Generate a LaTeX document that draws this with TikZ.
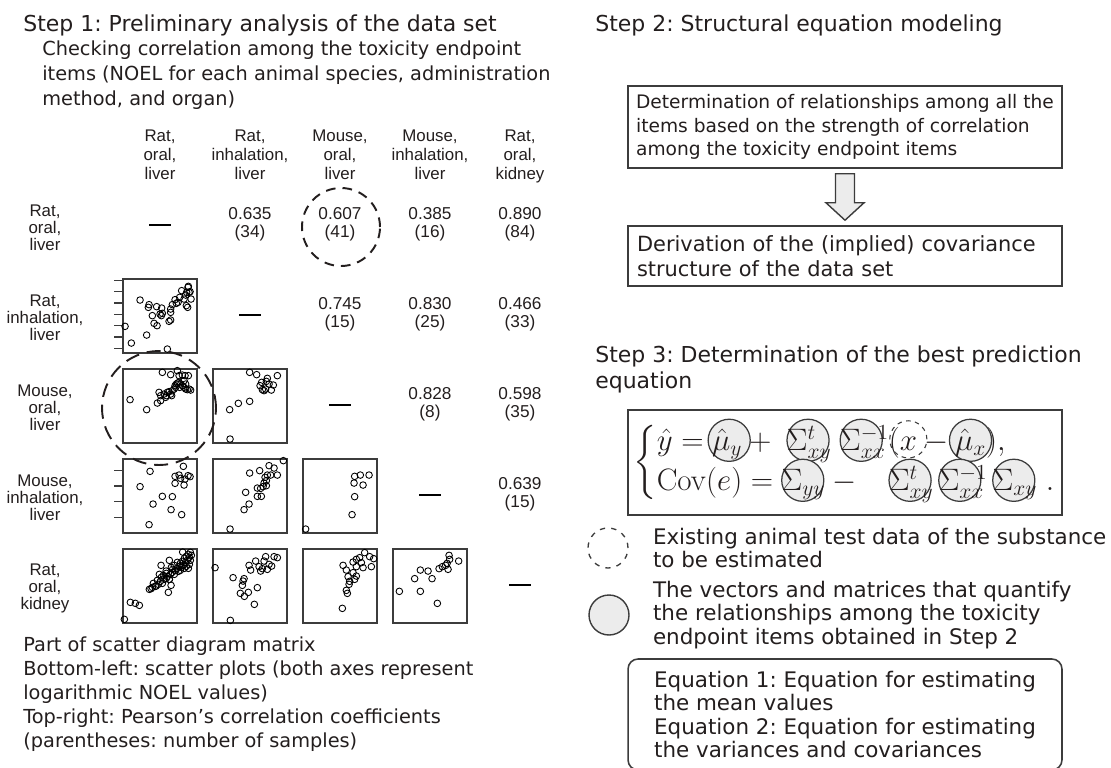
\documentclass[tikz,border=0pt]{standalone}
\usepackage{amsmath}
\usepackage{graphicx}
\usepackage[no-math]{fontspec}
\setmainfont{DejaVu Sans}
\newfontfamily\arialfont{Liberation Sans}
\usepackage{tikz}
\usetikzlibrary{positioning, calc}
\frenchspacing
\definecolor{cText}{RGB}{35,30,30}
\definecolor{cLine}{RGB}{60,60,60}
\definecolor{cFill}{RGB}{236,236,236}
\newcommand{\titlesize}{\fontsize{12.5pt}{14.8pt}\selectfont}
\newcommand{\bodysize}{\fontsize{12.2pt}{13.4pt}\selectfont}
\newcommand{\gridsize}{\arialfont\fontsize{9.6pt}{10.8pt}\selectfont}
\tikzset{
    steptitle/.style={anchor=base west, inner sep=0pt, font=\titlesize},
    bodytext/.style ={anchor=north west, inner sep=0pt, align=left, font=\bodysize},
    stepbox/.style  ={rectangle, draw=cLine, line width=0.9pt, minimum width=8.68cm, align=left},
    notebox/.style  ={rectangle, rounded corners=0.2cm, draw=cLine, line width=0.9pt, minimum width=8.68cm, align=left, font=\bodysize},
    eqbox/.style    ={rectangle, draw=cLine, line width=0.9pt, minimum width=8.68cm, minimum height=2.1cm, inner sep=0pt, font=\fontsize{17.28pt}{18.6pt}\selectfont},
    colhead/.style  ={anchor=north, inner sep=0pt, align=center, font=\gridsize},
    rowlabel/.style ={inner sep=0pt, align=center, font=\arialfont\fontsize{9.6pt}{9.7pt}\selectfont},
    corrval/.style  ={inner sep=0pt, align=center, font=\arialfont\fontsize{9.8pt}{10.2pt}\selectfont},
    scatbox/.style  ={rectangle, draw=cLine, line width=0.75pt, minimum size=1.48cm, inner sep=0pt},
    dotmark/.style  ={draw=black, line width=0.5pt},
    axistick/.style ={draw=cLine, line width=0.7pt},
    diagdash/.style ={draw=black, line width=0.8pt},
    ringdash/.style ={circle, draw=cText, line width=1.1pt, dash pattern=on 5.5pt off 4pt, inner sep=0pt},
    keyring/.style  ={circle, minimum size=0.8cm, inner sep=0pt, line width=0.8pt, draw=cLine},
    fatarrow/.style ={draw=cLine, line width=0.8pt, fill=cFill},
    eqring/.style   ={fill=cFill, draw=cLine, line width=0.7pt},
    eqdash/.style   ={draw=cLine, line width=0.6pt, dash pattern=on 2.5pt off 2.5pt},
}
\newcommand{\ringed}[1]{\tikz[overlay,baseline=0pt]\filldraw[eqring] (#1,0.33em) circle (0.68em);}
\newcommand{\dashringed}[1]{\tikz[overlay,baseline=0pt]\draw[eqdash] (#1,0.36em) circle (0.6em);}

\begin{document}
\begin{tikzpicture}[x=0.02cm, y=-0.02cm, text=cText]
    \useasboundingbox (0,0) rectangle (1111,767);
    % step 1
    \node[steptitle] (s1title) at (23,32) {Step 1: Preliminary analysis of the data set};
    \node[bodytext, font=\fontsize{11pt}{14.2pt}\selectfont] (s1text) at (42,40.3) {Checking correlation among the toxicity endpoint\\items (NOEL for each animal species, administration\\method, and organ)};
    % scatter diagram matrix
    \foreach \c/\lab in {1/{Rat,\\oral,\\liver}, 2/{Rat,\\inhalation,\\liver}, 3/{Mouse,\\oral,\\liver}, 4/{Mouse,\\inhalation,\\liver}, 5/{Rat,\\oral,\\kidney}}
        \node[colhead] (hd\c) at ({160+90*(\c-1)},129.5) {\lab};
    \foreach \r/\lab in {1/{Rat,\\oral,\\liver}, 2/{Rat,\\inhalation,\\liver}, 3/{Mouse,\\oral,\\liver}, 4/{Mouse,\\inhalation,\\liver}, 5/{Rat,\\oral,\\kidney}}
        \node[rowlabel] (rl\r) at (45,{228+90*(\r-1)}) {\lab};
    \foreach \k in {1,...,5}
        \draw[diagdash] ({149+90*(\k-1)},{225+90*(\k-1)}) -- ++(22,0);
    \foreach \c/\r/\v/\n in {2/1/0.635/34, 3/1/0.607/41, 4/1/0.385/16, 5/1/0.890/84, 3/2/0.745/15, 4/2/0.830/25, 5/2/0.466/33, 4/3/0.828/8, 5/3/0.598/35, 5/4/0.639/15}
        \node[corrval] (cv\r\c) at ({160+90*(\c-1)},{224+90*(\r-1)}) {\v\\(\n)};
    \foreach \c/\r in {1/2, 1/3, 2/3, 1/4, 2/4, 3/4, 1/5, 2/5, 3/5, 4/5}
        \node[scatbox] (sp\r\c) at ({160+90*(\c-1)},{226+90*(\r-1)}) {};
    \begin{scope}[shift={(sp21.north west)}]
        \foreach \ty in {2,13.3,24.7,36,47.3,58.7,70} \draw[axistick] (0,\ty) -- ++(-8,0);
        \foreach \px/\py in {2.7/48, 9/64.7, 17.7/21.7, 24.3/56.7, 26.7/26.3, 26/29, 30/37.3, 31.7/45, 34.7/47.3, 34.3/28.3, 39.3/29.7, 37.7/35.7, 40/35, 39/37.3, 46.7/43, 48.3/41.7, 48.3/34, 48.3/30.7, 50/26.3, 52.7/21.3, 54/25, 55.7/24, 57.3/19, 59.3/12.3, 61.7/20.7, 63.3/16.7, 64.3/14, 65.7/9, 66.7/14, 67.7/13.3, 66/8, 68.7/20.7, 64/27.3, 65.3/29, 45/70.7}
            \draw[dotmark] (\px,\py) circle (3.3);
    \end{scope}
    \begin{scope}[shift={(sp31.north west)}]
        \foreach \px/\py in {7.7/31.3, 24.3/41.3, 35/34.7, 40/4, 48.3/6.3, 55/2.3, 56.7/7.3, 60/6.7, 62.7/7.3, 66/7.3, 36.7/24, 38.3/27.3, 41.7/25.7, 43.3/29, 45/24, 46.7/23.3, 48.3/25.7, 50/22.3, 51.7/20.7, 52.7/17.3, 54/15.7, 55.3/14.7, 56.7/14, 58.3/15.7, 60/17.3, 61.7/19, 63.3/20.7, 65/21.3, 66.7/20.7, 68.3/21.7, 57.3/19, 53.3/19, 38.3/32.3, 44/27.3, 49.3/27.3, 61.7/12.3, 63.3/15.7}
            \draw[dotmark] (\px,\py) circle (3.3);
    \end{scope}
    \begin{scope}[shift={(sp32.north west)}]
        \foreach \px/\py in {37.3/4, 44.3/6.3, 65/7.3, 55/10, 54/13, 49.3/14, 47.7/17.3, 56.7/15.7, 61/16.7, 50/21.3, 53.3/20.7, 59/21.7, 51.7/22.3, 37.3/33, 26/35, 17.3/41.3, 17.7/70.7}
            \draw[dotmark] (\px,\py) circle (3.3);
    \end{scope}
    \begin{scope}[shift={(sp41.north west)}]
        \foreach \ty in {12,27.6,43.2,58.8} \draw[axistick] (0,\ty) -- ++(-8,0);
        \foreach \px/\py in {27.7/13, 17.7/28.3, 52.7/18, 56.7/16.7, 61/8, 65.7/17.3, 67.7/18.3, 58.3/20, 62.7/20.7, 52.7/25, 61.7/26.7, 40/38, 50/38.3, 30.7/45.7, 48.7/51.3, 59.3/56.3, 26.7/66.3}
            \draw[dotmark] (\px,\py) circle (3.3);
    \end{scope}
    \begin{scope}[shift={(sp42.north west)}]
        \foreach \px/\py in {71/2.3, 56.7/7.3, 61.7/9.7, 47.3/12.3, 37.3/14.7, 55/16.7, 58.3/16.7, 65/16.7, 52.7/19, 54/22.3, 51.7/24.7, 50.7/28.3, 54/27.3, 45/29.7, 48.3/30, 33.3/34, 45/38, 49/38, 36.7/45.7, 31.7/51.3, 17.7/70.7}
            \draw[dotmark] (\px,\py) circle (3.3);
    \end{scope}
    \begin{scope}[shift={(sp43.north west)}]
        \foreach \px/\py in {52.3/18, 58/16.7, 66.7/16.7, 51.7/24.7, 60.7/26.7, 52.3/38.3, 49.7/56.3, 3.3/70.7}
            \draw[dotmark] (\px,\py) circle (3.3);
    \end{scope}
    \begin{scope}[shift={(sp51.north west)}]
        \foreach \px/\py in {8/54, 13/55, 17/57, 2/71, 27/41, 30/39, 33/38, 36/36, 38/33, 40/35, 42/31, 44/30, 46/44, 45/28, 47/31, 48/26, 50/24, 52/26, 53/22, 55/20, 56/23, 57/18, 58/15, 59/19, 60/13, 61/17, 62/10, 63/14, 64/8, 65/12, 66/6, 67/9, 68/4, 69/7, 67/16, 50.3/21, 43.7/22.7, 37/26, 47/31, 48.7/37, 33.7/37.7, 28.7/40.3, 38.7/17, 47/12, 60.3/3.7, 55/14, 58/22, 62/20, 64/18, 52/17, 49/19, 41/27, 35/32, 31/35, 68/12, 66/20, 39/29, 44/25}
            \draw[dotmark] (\px,\py) circle (3.3);
    \end{scope}
    \begin{scope}[shift={(sp52.north west)}]
        \foreach \px/\py in {2.7/19.3, 20.7/29.3, 31.7/30.3, 30.7/32.7, 30/37, 36.7/17, 38.3/21.7, 43.3/12.7, 46.7/18.3, 48.3/22.7, 51.7/12.7, 53.3/8.3, 56.7/16, 59.3/17.7, 61.7/8.3, 65/9.3, 50/20.3, 55/21, 45/39.3, 28/45, 32/48, 36/44, 42/56, 18/72}
            \draw[dotmark] (\px,\py) circle (3.3);
    \end{scope}
    \begin{scope}[shift={(sp53.north west)}]
        \foreach \px/\py in {40.7/17, 44/21.7, 50.7/13.7, 54/11, 57.3/9.3, 62.3/4.3, 67.3/8.3, 71.3/10.3, 59/14.3, 54/18.3, 60.7/19.3, 69/18.3, 50.7/24.3, 54/27.7, 45.7/28.3, 47.3/33, 52.3/31, 46.7/36, 44/42, 45/45, 40/60}
            \draw[dotmark] (\px,\py) circle (3.3);
    \end{scope}
    \begin{scope}[shift={(sp54.north west)}]
        \foreach \px/\py in {22.3/30.3, 28/21.7, 35.7/22.7, 39.7/30.3, 46.7/20.3, 50/18.3, 53.3/17, 56.7/7, 57.3/11, 55.7/21, 66.3/12.7, 54.7/15, 7/43, 28/43, 45/55}
            \draw[dotmark] (\px,\py) circle (3.3);
    \end{scope}
    \node[ringdash, minimum size=1.56cm] (ring41) at ($(cv13)+(1,3)$) {};
    \node[ringdash, minimum size=2.28cm, dash pattern=on 8pt off 4.5pt] (ringsp) at ($(sp31)+(-1,2)$) {};
    \node[bodytext, font=\fontsize{11pt}{13.66pt}\selectfont] (caption) at (23,636) {Part of scatter diagram matrix\\Bottom-left: scatter plots (both axes represent\\logarithmic NOEL values)\\Top-right: Pearson’s correlation coefficients\\(parentheses: number of samples)};
    % step 2
    \node[steptitle] (s2title) at (595,32) {Step 2: Structural equation modeling};
    \node[stepbox, minimum height=1.64cm, font=\fontsize{10.6pt}{13.4pt}\selectfont] (det) at (845,127) {Determination of relationships among all the\\items based on the strength of correlation\\among the toxicity endpoint items};
    \node[stepbox, minimum height=1.2cm, text width=8.32cm, inner xsep=0.18cm, font=\fontsize{11.9pt}{14.2pt}\selectfont] (deriv) at (845,256) {Derivation of the (implied) covariance\\structure of the data set};
    \draw[fatarrow] ($(det.south)+(-9.5,5)$) -- ($(det.south)+(-9.5,34)$) -- ($(det.south)+(-19,34)$) -- ($(deriv.north)+(0,-5)$) -- ($(det.south)+(19,34)$) -- ($(det.south)+(9.5,34)$) -- ($(det.south)+(9.5,5)$) -- cycle;
    % step 3
    \node[steptitle, anchor=north west, align=left] (s3title) at (595,345.3) {Step 3: Determination of the best prediction\\equation};
    \node[eqbox] (eqn) at (845,462.5) {\scalebox{1.02}{\renewcommand{\arraystretch}{1.2}$\left\{\begin{array}{@{}l@{}}
        \hat{y} = \ringed{0.55em}\hat{\mu}_y + \;\ringed{0.68em}\Sigma^t_{xy}\;\ringed{0.68em}\Sigma^{-1}_{xx}(\dashringed{0.27em}x - \ringed{0.5em}\hat{\mu}_x),\\
        \mathrm{Cov}(e) = \ringed{0.68em}\Sigma_{yy} - \mkern15mu\ringed{0.68em}\Sigma^t_{xy}\,\ringed{0.68em}\Sigma^{-1}_{xx}\,\ringed{0.68em}\Sigma_{xy}\;.
    \end{array}\right.$}};
    % legend
    \node[keyring, line width=0.75pt, dash pattern=on 3pt off 3.5pt] (keydash) at (608,548) {};
    \node[keyring, fill=cFill] (keyfill) at (609,615) {};
    \node[bodytext, right=0.48cm of keydash] (keydashtext) {Existing animal test data of the substance\\to be estimated};
    \node[bodytext, right=0.46cm of keyfill] (keyfilltext) {The vectors and matrices that quantify\\the relationships among the toxicity\\endpoint items obtained in Step 2};
    \node[notebox, minimum height=2.22cm] (note) at (845,714.5) {Equation 1: Equation for estimating\\the mean values\\Equation 2: Equation for estimating\\the variances and covariances};
\end{tikzpicture}
\end{document}
